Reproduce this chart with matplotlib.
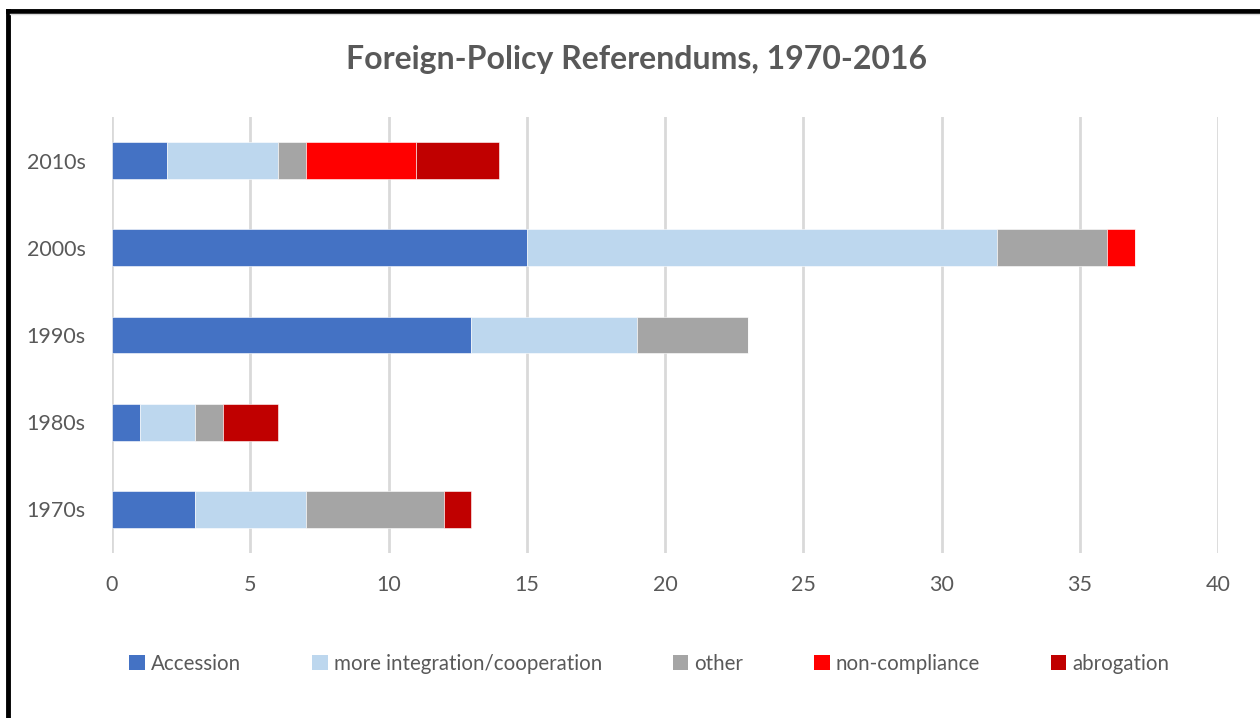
import matplotlib
matplotlib.use("Agg")
import matplotlib.pyplot as plt
from matplotlib.patches import Patch
from matplotlib.lines import Line2D

decades = ["1970s", "1980s", "1990s", "2000s", "2010s"]
accession = [3, 1, 13, 15, 2]
integration = [4, 2, 6, 17, 4]
other = [5, 1, 4, 4, 1]
non_compliance = [0, 0, 0, 1, 4]
abrogation = [1, 2, 0, 0, 3]

series = [
    ("Accession", accession, "#4472C4"),
    ("more integration/cooperation", integration, "#BDD7EE"),
    ("other", other, "#A5A5A5"),
    ("non-compliance", non_compliance, "#FF0000"),
    ("abrogation", abrogation, "#C00000"),
]

x_ticks = [0, 5, 10, 15, 20, 25, 30, 35, 40]
title = "Foreign-Policy Referendums, 1970-2016"

plt.rcParams['font.family'] = ['Lato', 'DejaVu Sans']
text_color = "#595959"

fig = plt.figure(figsize=(12.6, 7.18), dpi=100)
ax = fig.add_axes([112/1260, 1-553/718, (1218-112)/1260, (553-117)/718])

ypos = list(range(len(decades)))
left = [0]*len(decades)
handles = []
for name, vals, col in series:
    ax.barh(ypos, vals, left=left, height=0.42, color=col, edgecolor='white', linewidth=0.4, zorder=3)
    left = [l+v for l, v in zip(left, vals)]
    handles.append(Patch(facecolor=col, edgecolor='none', label=name))

ax.set_xlim(0, 40)
ax.set_ylim(-0.5, len(decades)-0.5)
ax.set_xticks(x_ticks)
ax.set_yticks(ypos)
ax.set_yticklabels(decades)
for s in ax.spines.values():
    s.set_visible(False)
ax.grid(axis='x', color='#D9D9D9', linewidth=2, zorder=0)
ax.tick_params(axis='both', length=0, labelsize=15.5, colors=text_color)
ax.tick_params(axis='x', pad=15.5)
ax.tick_params(axis='y', pad=19)

fig.text(636/1260, 1-59/718, title, ha='center', va='center', fontsize=23, fontweight='bold', color=text_color)

leg = fig.legend(handles=handles, loc='center', bbox_to_anchor=(649.5/1260, 1-664/718), ncol=5,
                 frameon=False, fontsize=14.8, handlelength=0.75, handleheight=0.75,
                 handletextpad=0.3, columnspacing=3.45, labelcolor=text_color)

# figure border (top and left, as in the cropped reference)
fig.add_artist(Line2D([8/1260, 8/1260], [0, 1-11/718], transform=fig.transFigure, color='black', linewidth=3.5))
fig.add_artist(Line2D([8/1260, 1], [1-11/718, 1-11/718], transform=fig.transFigure, color='black', linewidth=3.5))
fig.add_artist(Line2D([10/1260, 1], [1-14/718, 1-14/718], transform=fig.transFigure, color='#D9D9D9', linewidth=1))

fig.savefig("out.png", dpi=100)
